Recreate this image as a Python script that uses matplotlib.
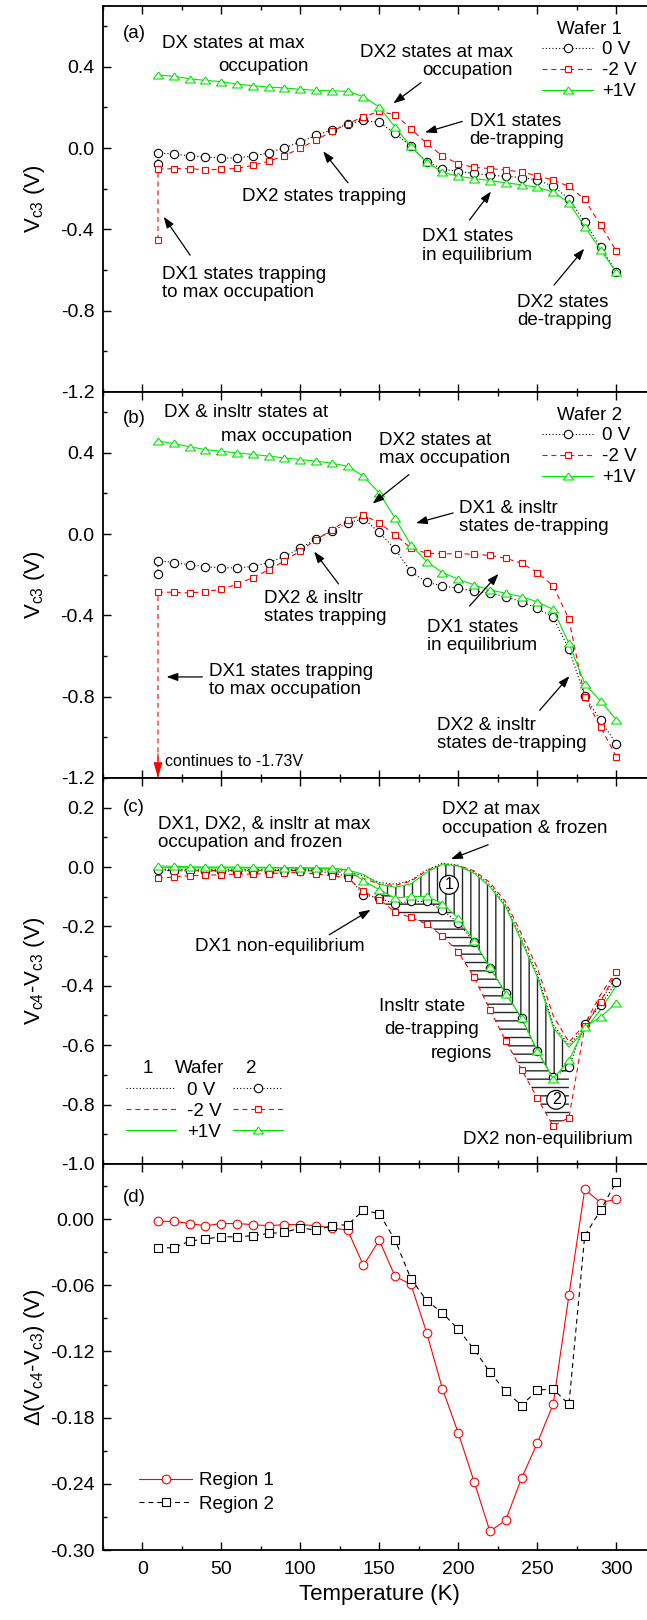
import matplotlib
matplotlib.use("Agg")
import matplotlib.pyplot as plt
from matplotlib.lines import Line2D
from matplotlib.ticker import MultipleLocator, FormatStrFormatter

plt.rcParams["font.family"] = ["Liberation Sans", "DejaVu Sans"]
plt.rcParams["mathtext.fontset"] = "custom"
plt.rcParams["mathtext.rm"] = "Liberation Sans"
plt.rcParams["mathtext.it"] = "Liberation Sans:italic"
plt.rcParams["axes.unicode_minus"] = False
plt.rcParams["hatch.linewidth"] = 1.0

# temperature grid (K)
T = [10, 20, 30, 40, 50, 60, 70, 80, 90, 100, 110, 120, 130, 140, 150,
     160, 170, 180, 190, 200, 210, 220, 230, 240, 250, 260, 270, 280, 290, 300]
# series with a repeated first reading at 10 K
T2 = [10] + T

# (a) wafer 1, Vc3
a_0V = [-0.077, -0.025, -0.028, -0.039, -0.044, -0.049, -0.049, -0.039, -0.024, 0.002, 0.029,
        0.062, 0.090, 0.118, 0.136, 0.126, 0.073, 0.008, -0.067, -0.103, -0.116, -0.124,
        -0.134, -0.139, -0.145, -0.157, -0.188, -0.250, -0.364, -0.487, -0.609]
a_m2V = [-0.452, -0.104, -0.101, -0.101, -0.108, -0.104, -0.100, -0.085, -0.065, -0.038, 0.000,
         0.039, 0.082, 0.119, 0.155, 0.180, 0.165, 0.095, 0.023, -0.039, -0.077, -0.095,
         -0.101, -0.108, -0.118, -0.136, -0.158, -0.188, -0.253, -0.379, -0.506]
a_p1V = [0.359, 0.354, 0.341, 0.333, 0.327, 0.315, 0.307, 0.300, 0.296, 0.289, 0.284, 0.282,
         0.279, 0.253, 0.202, 0.103, 0.008, -0.070, -0.119, -0.139, -0.150, -0.160, -0.171,
         -0.181, -0.193, -0.216, -0.269, -0.387, -0.501, -0.612]

# (b) wafer 2, Vc3
b_0V = [-0.196, -0.130, -0.140, -0.151, -0.160, -0.166, -0.166, -0.160, -0.140, -0.110, -0.069,
        -0.025, 0.016, 0.054, 0.076, 0.008, -0.074, -0.184, -0.237, -0.255, -0.267, -0.280,
        -0.291, -0.308, -0.333, -0.365, -0.410, -0.566, -0.798, -0.917, -1.032]
b_m2V = [-1.73, -0.286, -0.286, -0.290, -0.283, -0.272, -0.247, -0.214, -0.176, -0.132, -0.082,
         -0.028, 0.021, 0.071, 0.095, 0.054, -0.003, -0.069, -0.094, -0.097, -0.097, -0.099,
         -0.105, -0.119, -0.143, -0.189, -0.255, -0.418, -0.802, -0.950, -1.095]
b_p1V = [0.458, 0.446, 0.430, 0.416, 0.408, 0.400, 0.392, 0.384, 0.375, 0.367, 0.359, 0.349,
         0.334, 0.285, 0.202, 0.079, -0.053, -0.135, -0.189, -0.222, -0.250, -0.275, -0.291,
         -0.308, -0.333, -0.370, -0.538, -0.736, -0.821, -0.914]

# (c) Vc4-Vc3, wafer 1 (lines only)
c1_0V = [-0.007, -0.008, -0.008, -0.008, -0.008, -0.008, -0.008, -0.008, -0.008, -0.008, -0.009,
         -0.010, -0.014, -0.030, -0.052, -0.058, -0.045, -0.010, 0.013, 0.006, -0.017, -0.060,
         -0.128, -0.240, -0.360, -0.530, -0.600, -0.540, -0.450, -0.370]
c1_m2V = [-0.012, -0.012, -0.012, -0.012, -0.012, -0.012, -0.012, -0.012, -0.012, -0.012, -0.013,
          -0.014, -0.020, -0.038, -0.058, -0.062, -0.048, -0.012, 0.008, 0.005, -0.013, -0.052,
          -0.118, -0.225, -0.340, -0.500, -0.590, -0.530, -0.430, -0.350]
c1_p1V = [-0.002, -0.002, -0.003, -0.003, -0.003, -0.003, -0.003, -0.003, -0.003, -0.004, -0.004,
          -0.005, -0.010, -0.025, -0.058, -0.068, -0.057, -0.018, 0.010, 0.003, -0.021, -0.066,
          -0.134, -0.250, -0.370, -0.540, -0.606, -0.550, -0.480, -0.400]
# (c) Vc4-Vc3, wafer 2 (markers)
c2_0V = [-0.010, -0.012, -0.013, -0.014, -0.014, -0.013, -0.013, -0.012, -0.012, -0.012, -0.014,
         -0.020, -0.031, -0.093, -0.105, -0.123, -0.116, -0.116, -0.145, -0.188, -0.252, -0.340,
         -0.424, -0.510, -0.620, -0.708, -0.675, -0.527, -0.466, -0.387]
c2_m2V = [-0.037, -0.034, -0.029, -0.028, -0.026, -0.024, -0.024, -0.022, -0.020, -0.018, -0.024,
          -0.029, -0.037, -0.082, -0.110, -0.151, -0.170, -0.192, -0.233, -0.286, -0.372, -0.480,
          -0.586, -0.682, -0.778, -0.872, -0.844, -0.537, -0.454, -0.353]
c2_p1V = [0.004, 0.002, 0.001, 0.000, 0.000, 0.000, -0.001, -0.001, -0.002, -0.002, -0.003,
          -0.004, -0.009, -0.046, -0.076, -0.105, -0.099, -0.099, -0.123, -0.173, -0.250, -0.338,
          -0.426, -0.507, -0.619, -0.713, -0.651, -0.539, -0.505, -0.458]

# (d) delta(Vc4-Vc3)
d_reg1 = [-0.002, -0.002, -0.004, -0.006, -0.004, -0.004, -0.005, -0.006, -0.005, -0.005, -0.006,
          -0.008, -0.010, -0.042, -0.019, -0.052, -0.059, -0.103, -0.154, -0.194, -0.238, -0.283,
          -0.273, -0.235, -0.203, -0.168, -0.069, 0.027, 0.015, 0.018]
d_reg2 = [-0.026, -0.026, -0.020, -0.018, -0.016, -0.016, -0.015, -0.013, -0.012, -0.008, -0.010,
          -0.006, -0.005, 0.008, 0.005, -0.019, -0.054, -0.074, -0.085, -0.100, -0.118, -0.139,
          -0.156, -0.169, -0.155, -0.154, -0.168, -0.015, 0.008, 0.034]

RED = "#ff0000"
GREEN = "#00e600"
DOT = (0, (1, 2))
DASH = (0, (4.5, 3.5))
FS = 13.5
TRI = [(0, 0.7), (-1, -0.7), (1, -0.7), (0, 0.7)]  # wide, flat triangle like the original

style = {
    "0V": dict(color="k", linestyle=DOT, marker="o", ms=6),
    "m2V": dict(color=RED, linestyle=DASH, marker="s", ms=5),
    "p1V": dict(color=GREEN, linestyle="-", marker=TRI, ms=7.2),
}


def draw(ax, x, y, key, marker=True):
    st = style[key]
    ax.plot(x, y, color=st["color"], linestyle=st["linestyle"], lw=0.8,
            marker=st["marker"] if marker else None, ms=st["ms"], mfc="white",
            mec=st["color"], mew=0.8)


def handle(key, marker=True):
    st = style[key]
    return Line2D([], [], color=st["color"], linestyle=st["linestyle"], lw=0.8,
                  marker=st["marker"] if marker else None, ms=st["ms"], mfc="white",
                  mec=st["color"], mew=0.8)


def setup(ax, ylim, ymaj, ymin, fmt, xlabels=False):
    ax.set_xlim(-25, 325)
    ax.set_ylim(*ylim)
    ax.xaxis.set_major_locator(MultipleLocator(50))
    ax.xaxis.set_minor_locator(MultipleLocator(25))
    ax.yaxis.set_major_locator(MultipleLocator(ymaj))
    ax.yaxis.set_minor_locator(MultipleLocator(ymin))
    ax.yaxis.set_major_formatter(FormatStrFormatter(fmt))
    ax.tick_params(which="both", direction="in", top=True, right=False, width=1.0,
                   labelsize=14, labelbottom=xlabels)
    ax.tick_params(which="major", length=5.5)
    ax.tick_params(which="minor", length=3)
    ax.tick_params(axis="y", pad=6)
    ax.tick_params(axis="x", pad=8)
    ax.spines["right"].set_visible(False)
    for s in ["left", "top", "bottom"]:
        ax.spines[s].set_linewidth(1.3)
    ax.yaxis.set_label_coords(-0.10, 0.5)


def arrow(ax, tail, head, color="k"):
    ax.annotate("", xy=head, xytext=tail,
                arrowprops=dict(arrowstyle="-|>,head_length=0.5,head_width=0.18",
                                color=color, lw=0.9, shrinkA=0, shrinkB=0,
                                mutation_scale=FS))


fig = plt.figure(figsize=(6.47, 16.2), dpi=100)
L, W, H = 0.1587, 0.855, 0.2383
axa = fig.add_axes([L, 0.7581, W, H])
axb = fig.add_axes([L, 0.5198, W, H])
axc = fig.add_axes([L, 0.2815, W, H])
axd = fig.add_axes([L, 0.0432, W, H])

# ---- (a)
draw(axa, T2, a_0V, "0V")
draw(axa, T2, a_m2V, "m2V")
draw(axa, T, a_p1V, "p1V")
setup(axa, (-1.2, 0.7), 0.4, 0.2, "%.1f")
axa.set_ylabel(r"$\mathrm{V_{c3}}$ (V)", fontsize=16)
axa.legend([handle("0V"), handle("m2V"), handle("p1V")], ["0 V", "-2 V", "+1V"],
           title="Wafer 1", loc="upper right", bbox_to_anchor=(0.966, 0.962),
           frameon=False, fontsize=FS, title_fontsize=FS, handlelength=2.7,
           handletextpad=0.5, labelspacing=0.2, borderpad=0, borderaxespad=0)

axa.text(-12, 0.563, "(a)", fontsize=FS, va="center")
axa.text(12.3, 0.514, "DX states at max", fontsize=FS, va="center")
axa.text(48.0, 0.40, "occupation", fontsize=FS, va="center")
axa.text(234.5, 0.4245, "DX2 states at max\noccupation", fontsize=FS, va="center",
         ha="right", multialignment="right", linespacing=1.1)
axa.text(207.1, 0.085, "DX1 states\nde-trapping", fontsize=FS, va="center", linespacing=1.1)
axa.text(63.1, -0.237, "DX2 states trapping", fontsize=FS, va="center")
axa.text(12.3, -0.666, "DX1 states trapping\nto max occupation", fontsize=FS, va="center",
         linespacing=1.1)
axa.text(177.1, -0.4815, "DX1 states\nin equilibrium", fontsize=FS, va="center", linespacing=1.1)
axa.text(237.2, -0.803, "DX2 states\nde-trapping", fontsize=FS, va="center", linespacing=1.1)
arrow(axa, (176.4, 0.322), (158.9, 0.220))
arrow(axa, (202.5, 0.131), (179.0, 0.077))
arrow(axa, (130.2, -0.171), (114.5, -0.016))
arrow(axa, (30.3, -0.527), (13.6, -0.338))
arrow(axa, (207.1, -0.354), (220.7, -0.214))
arrow(axa, (260.6, -0.674), (279.7, -0.495))

# ---- (b)
draw(axb, T2, b_0V, "0V")
draw(axb, T2, b_m2V, "m2V")
draw(axb, T, b_p1V, "p1V")
setup(axb, (-1.2, 0.7), 0.4, 0.2, "%.1f")
axb.set_ylabel(r"$\mathrm{V_{c3}}$ (V)", fontsize=16)
axb.legend([handle("0V"), handle("m2V"), handle("p1V")], ["0 V", "-2 V", "+1V"],
           title="Wafer 2", loc="upper right", bbox_to_anchor=(0.966, 0.962),
           frameon=False, fontsize=FS, title_fontsize=FS, handlelength=2.7,
           handletextpad=0.5, labelspacing=0.2, borderpad=0, borderaxespad=0)
# the first -2 V reading is off scale: arrow head where the line leaves the axes
axb.annotate("", xy=(T2[0], -1.2), xytext=(T2[0], -1.08),
             arrowprops=dict(arrowstyle="-|>,head_length=0.7,head_width=0.2", color=RED,
                             lw=0.8, shrinkA=0, shrinkB=0, mutation_scale=FS))

axb.text(-12, 0.57, "(b)", fontsize=FS, va="center")
axb.text(13.6, 0.598, "DX & insltr states at", fontsize=FS, va="center")
axb.text(49.8, 0.482, "max occupation", fontsize=FS, va="center")
axb.text(149.8, 0.4165, "DX2 states at\nmax occupation", fontsize=FS, va="center", linespacing=1.1)
axb.text(200.6, 0.083, "DX1 & insltr\nstates de-trapping", fontsize=FS, va="center",
         linespacing=1.1)
axb.text(77.2, -0.3615, "DX2 & insltr\nstates trapping", fontsize=FS, va="center", linespacing=1.1)
axb.text(180.3, -0.5035, "DX1 states\nin equilibrium", fontsize=FS, va="center", linespacing=1.1)
axb.text(42.0, -0.7195, "DX1 states trapping\nto max occupation", fontsize=FS, va="center",
         linespacing=1.1)
axb.text(186.3, -0.9875, "DX2 & insltr\nstates de-trapping", fontsize=FS, va="center",
         linespacing=1.1)
axb.text(14.6, -1.118, "continues to -1.73V", fontsize=11.5, va="center")
arrow(axb, (168.8, 0.293), (145.8, 0.150))
arrow(axb, (196.7, 0.104), (173.2, 0.054))
arrow(axb, (124.2, -0.245), (108.8, -0.086))
arrow(axb, (207.1, -0.354), (225.4, -0.196))
arrow(axb, (38.1, -0.703), (15.4, -0.703))
arrow(axb, (251.5, -0.867), (270.3, -0.699))

# ---- (c)
i0, i1 = T.index(150), T.index(270) + 1
axc.fill_between(T[i0:i1], c1_p1V[i0:i1], c2_p1V[i0:i1], facecolor="none",
                 edgecolor="0.15", hatch="||", lw=0)
axc.fill_between(T[i0:i1], c2_p1V[i0:i1], c2_m2V[i0:i1], facecolor="none",
                 edgecolor="0.15", hatch="--", lw=0)
draw(axc, T, c1_0V, "0V", marker=False)
draw(axc, T, c1_m2V, "m2V", marker=False)
draw(axc, T, c1_p1V, "p1V", marker=False)
draw(axc, T, c2_0V, "0V")
draw(axc, T, c2_m2V, "m2V")
draw(axc, T, c2_p1V, "p1V")
setup(axc, (-1.0, 0.3), 0.2, 0.1, "%.1f")
axc.set_ylabel(r"$\mathrm{V_{c4}}$-$\mathrm{V_{c3}}$ (V)", fontsize=16)

leg1 = axc.legend([handle("0V", False), handle("m2V", False), handle("p1V", False)],
                  ["0 V", "-2 V", "+1V"], loc="upper left", bbox_to_anchor=(0.042, 0.213),
                  frameon=False, fontsize=FS, handlelength=2.65, handletextpad=0.6,
                  labelspacing=0.2, borderpad=0, borderaxespad=0)
axc.add_artist(leg1)
axc.legend([handle("0V"), handle("m2V"), handle("p1V")], ["", "", ""],
           loc="upper left", bbox_to_anchor=(0.2355, 0.213), frameon=False, fontsize=FS,
           handlelength=2.65, handletextpad=0.0, labelspacing=0.2, borderpad=0,
           borderaxespad=0)
axc.text(0.082, 0.247, "1", transform=axc.transAxes, fontsize=FS, ha="center", va="center")
axc.text(0.176, 0.247, "Wafer", transform=axc.transAxes, fontsize=FS, ha="center", va="center")
axc.text(0.268, 0.247, "2", transform=axc.transAxes, fontsize=FS, ha="center", va="center")

axc.text(-12, 0.2, "(c)", fontsize=FS, va="center")
axc.text(9.7, 0.114, "DX1, DX2, & insltr at max\noccupation and frozen", fontsize=FS,
         va="center", linespacing=1.1)
axc.text(189.4, 0.162, "DX2 at max\noccupation & frozen", fontsize=FS, va="center",
         linespacing=1.1)
axc.text(33.1, -0.267, "DX1 non-equilibrium", fontsize=FS, va="center")
axc.text(149.8, -0.470, "Insltr state", fontsize=FS, va="center")
axc.text(152.9, -0.548, "de-trapping", fontsize=FS, va="center")
axc.text(182.4, -0.627, "regions", fontsize=FS, va="center")
axc.text(203.2, -0.916, "DX2 non-equilibrium", fontsize=FS, va="center")
circ = dict(boxstyle="circle,pad=0.12", fc="white", ec="k", lw=0.9)
axc.text(194.1, -0.060, "1", fontsize=11.5, ha="center", va="center", bbox=circ)
axc.text(261.9, -0.784, "2", fontsize=11.5, ha="center", va="center", bbox=circ)
arrow(axc, (218.9, 0.075), (195.4, 0.027))
arrow(axc, (118.4, -0.228), (144.5, -0.144))

# ---- (d)
axd.plot(T, d_reg1, color=RED, lw=0.8, marker="o", ms=6.2, mfc="white", mec=RED, mew=0.8,
         label="Region 1")
axd.plot(T, d_reg2, color="k", lw=0.8, linestyle=DASH, marker="s", ms=5.2, mfc="white",
         mec="k", mew=0.8, label="Region 2")
setup(axd, (-0.30, 0.05), 0.06, 0.03, "%.2f", xlabels=True)
axd.set_ylabel("Δ($\\mathrm{V_{c4}}$-$\\mathrm{V_{c3}}$) (V)", fontsize=16)
axd.set_xlabel("Temperature (K)", fontsize=16, labelpad=4)
axd.legend(loc="upper left", bbox_to_anchor=(0.0665, 0.2016), frameon=False, fontsize=FS,
           handlelength=2.8, handletextpad=0.4, labelspacing=0.35, borderpad=0,
           borderaxespad=0)
axd.text(-12, 0.020, "(d)", fontsize=FS, va="center")

fig.savefig("out.png", dpi=100)
